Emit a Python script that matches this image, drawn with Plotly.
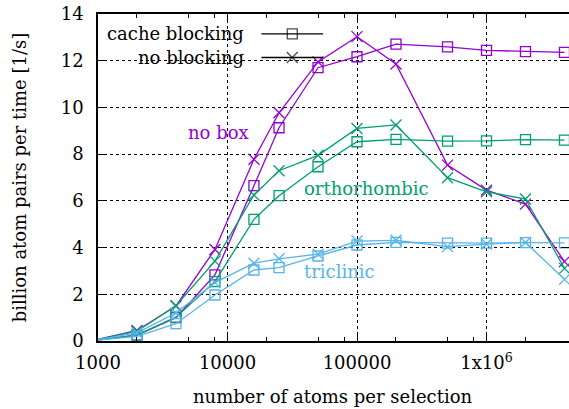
import plotly.graph_objects as go

atoms = [1000, 2000, 4000, 8000, 16000, 25000, 50000, 100000, 200000, 500000, 1000000, 2000000, 4000000]

nobox_cache = [0.05, 0.25, 1.0, 2.83, 6.65, 9.13, 11.7, 12.17, 12.71, 12.59, 12.44, 12.39, 12.36]
nobox_noblock = [0.07, 0.45, 1.5, 3.92, 7.78, 9.77, 11.95, 13.03, 11.86, 7.53, 6.46, 5.86, 3.4]
ortho_cache = [0.05, 0.25, 1.02, 2.54, 5.21, 6.22, 7.46, 8.53, 8.63, 8.56, 8.57, 8.62, 8.6]
ortho_noblock = [0.07, 0.42, 1.51, 3.42, 6.25, 7.29, 7.95, 9.1, 9.25, 6.99, 6.39, 6.08, 3.11]
tri_cache = [0.04, 0.2, 0.74, 1.97, 3.04, 3.14, 3.64, 4.11, 4.22, 4.19, 4.19, 4.21, 4.2]
tri_noblock = [0.06, 0.35, 1.2, 2.5, 3.33, 3.52, 3.72, 4.28, 4.31, 4.04, 4.15, 4.22, 2.64]

major_ticks = [1000, 10000, 100000, 1000000]
major_labels = ["1000", "10000", "100000", "1x10<sup>6</sup>"]
minor_ticks = [m * d for d in [1000, 10000, 100000, 1000000] for m in (2, 5, 8) if m * d < 4400000]
y_ticks = [0, 2, 4, 6, 8, 10, 12, 14]

PURPLE = "#9400d3"
GREEN = "#009e73"
BLUE = "#56b4e9"
FONT = "DejaVu Serif"
FS = 18

series = [
    (nobox_cache, PURPLE, "square-open"),
    (nobox_noblock, PURPLE, "x-thin-open"),
    (ortho_cache, GREEN, "square-open"),
    (ortho_noblock, GREEN, "x-thin-open"),
    (tri_cache, BLUE, "square-open"),
    (tri_noblock, BLUE, "x-thin-open"),
]

fig = go.Figure()
for vals, col, sym in series:
    fig.add_trace(go.Scatter(
        x=atoms, y=vals, mode="lines+markers",
        line=dict(color=col, width=1.3),
        marker=dict(symbol=sym, size=10 if sym == "square-open" else 11,
                    color=col, line=dict(color=col, width=1.3)),
        cliponaxis=False, showlegend=False,
    ))

# key drawn on an overlay axis in unit coordinates
key_rows = [("cache blocking", "square-open", 0.939), ("no blocking", "x-thin-open", 0.867)]
for label, sym, yk in key_rows:
    fig.add_trace(go.Scatter(
        x=[0.347, 0.4125, 0.478], y=[yk, yk, yk], xaxis="x2", yaxis="y2",
        mode="lines+markers", line=dict(color="black", width=1.3),
        marker=dict(symbol=sym, size=[0, 10 if sym == "square-open" else 11, 0],
                    color="black", line=dict(color="black", width=1.3)),
        showlegend=False, cliponaxis=False,
    ))
    fig.add_annotation(x=0.315, y=yk, xref="x2", yref="y2", text=label,
                       showarrow=False, xanchor="right", yanchor="middle",
                       font=dict(family=FONT, size=FS, color="black"))

# series labels
fig.add_annotation(x=3.93, y=8.92, text="no box", showarrow=False,
                   font=dict(family=FONT, size=FS, color=PURPLE))
fig.add_annotation(x=5.073, y=6.55, text="orthorhombic", showarrow=False,
                   font=dict(family=FONT, size=FS, color=GREEN))
fig.add_annotation(x=4.865, y=2.97, text="triclinic", showarrow=False,
                   font=dict(family=FONT, size=FS, color=BLUE))

# axis titles
fig.add_annotation(x=0.499, y=-0.171, xref="paper", yref="paper",
                   text="number of atoms per selection", showarrow=False,
                   xanchor="center", yanchor="middle",
                   font=dict(family=FONT, size=FS, color="black"))
fig.add_annotation(x=-0.166, y=0.5, xref="paper", yref="paper",
                   text="billion atom pairs per time [1/s]", showarrow=False,
                   textangle=-90, xanchor="center", yanchor="middle",
                   font=dict(family=FONT, size=FS, color="black"))

fig.update_layout(
    width=569, height=409,
    margin=dict(l=98, r=0, t=14, b=68, autoexpand=False),
    paper_bgcolor="white", plot_bgcolor="white",
    font=dict(family=FONT, size=FS, color="black"),
    xaxis=dict(
        type="log", range=[3, 6.637], automargin=False,
        tickmode="array", tickvals=major_ticks, ticktext=major_labels,
        ticks="inside", ticklen=8, tickwidth=1, tickcolor="black",
        showline=True, linecolor="black", linewidth=1.5, mirror="ticks",
        showgrid=True, gridcolor="black", griddash="dot", gridwidth=1,
        minor=dict(tickmode="array", tickvals=minor_ticks, ticks="inside",
                   ticklen=4, tickcolor="black", tickwidth=1, showgrid=False),
        zeroline=False, ticklabelstandoff=5,
        tickfont=dict(family=FONT, size=FS),
    ),
    yaxis=dict(
        range=[0, 14], tickmode="array", tickvals=y_ticks, automargin=False,
        ticks="inside", ticklen=8, tickwidth=1, tickcolor="black",
        showline=True, linecolor="black", linewidth=1.5, mirror="ticks",
        showgrid=True, gridcolor="black", griddash="dot", gridwidth=1,
        zeroline=False, ticklabelstandoff=9,
        tickfont=dict(family=FONT, size=FS),
    ),
    xaxis2=dict(overlaying="x", range=[0, 1], visible=False, fixedrange=True),
    yaxis2=dict(overlaying="y", range=[0, 1], visible=False, fixedrange=True),
)

fig.write_html("out.html", config={"displayModeBar": False},
               post_script="document.body.style.margin='0';document.body.style.padding='0';")
